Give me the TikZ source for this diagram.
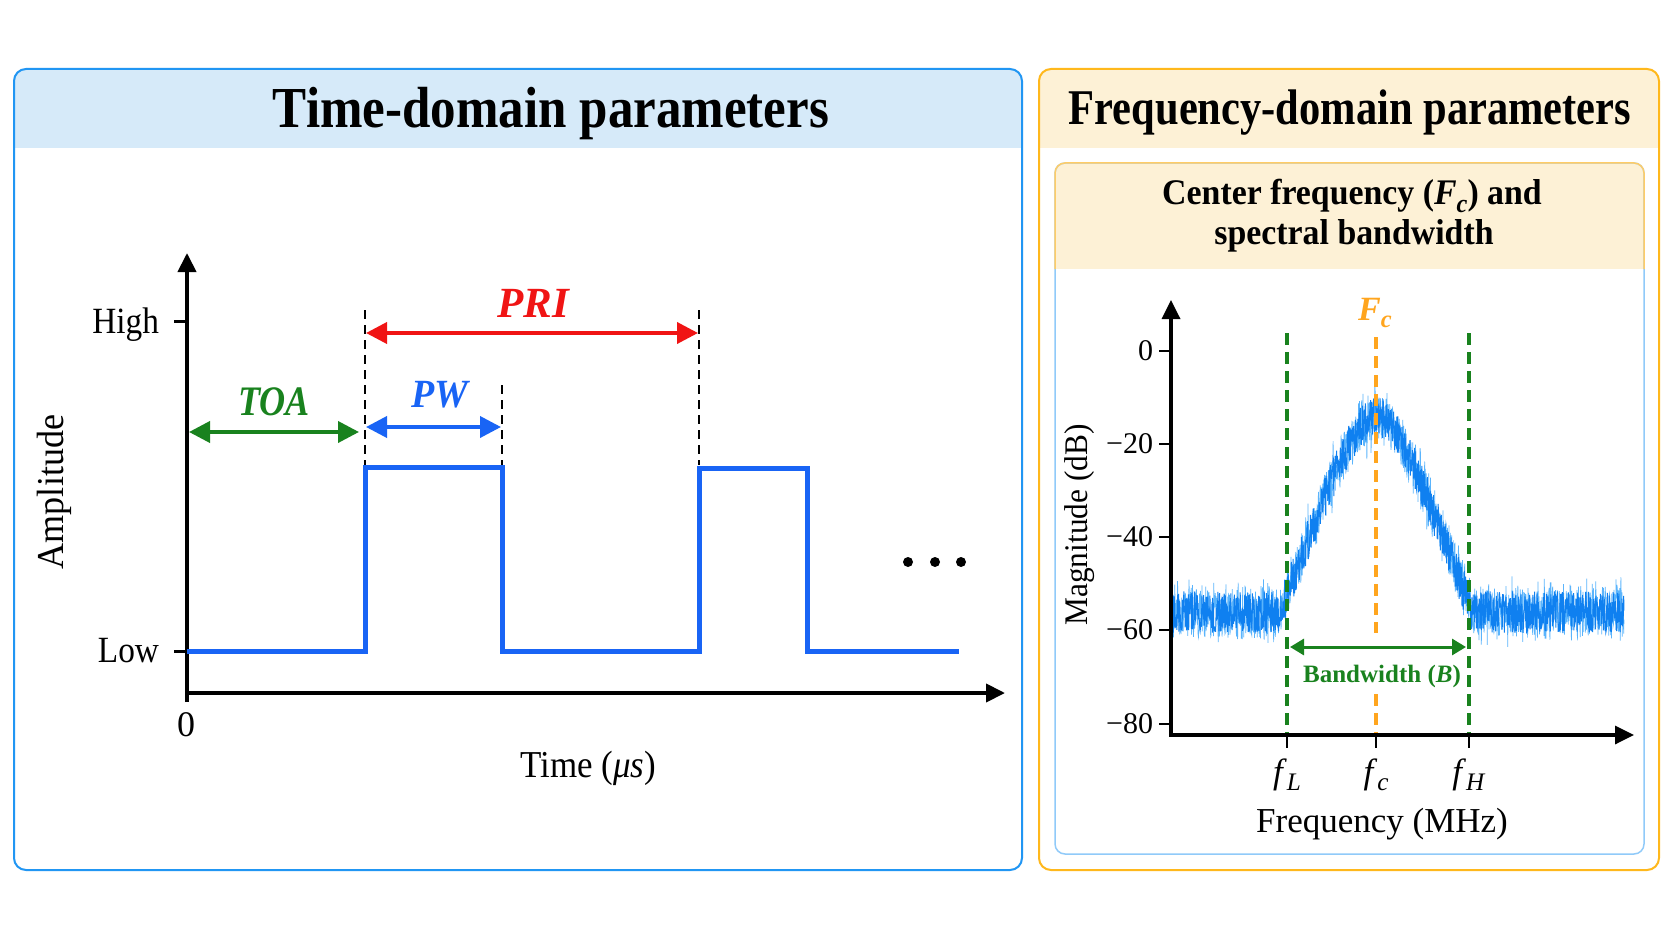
\documentclass[tikz,border=0pt]{standalone}
\usepackage{fontspec}
\setmainfont{Liberation Serif}
\usepackage{graphicx}
\usetikzlibrary{arrows.meta}
\definecolor{pblue}{RGB}{33,150,243}
\definecolor{hblue}{RGB}{214,234,249}
\definecolor{porange}{RGB}{255,184,28}
\definecolor{hcream}{RGB}{253,241,214}
\definecolor{iblue}{RGB}{144,202,249}
\definecolor{iorange}{RGB}{255,204,102}
\definecolor{sigblue}{RGB}{25,100,245}
\definecolor{pred}{RGB}{240,20,20}
\definecolor{pgreen}{RGB}{25,130,30}
\definecolor{forange}{RGB}{255,165,30}
\definecolor{specblue}{RGB}{15,128,240}
\definecolor{speclight}{RGB}{90,180,252}
\newcommand{\mysub}[1]{\raisebox{-0.22em}{\scalebox{0.72}{#1}}}
\newcommand{\fsz}[1]{\fontsize{#1}{#1}\selectfont}
\begin{document}
\begin{tikzpicture}[x=1pt,y=-1pt,
  panelline/.style={line width=2pt, rounded corners=12pt},
  axisline/.style={line width=4pt},
  axarrow/.style={-{Triangle[length=19pt,width=18pt]}},
  tickline/.style={line width=3pt},
  sigline/.style={sigblue, line width=5pt, line join=miter},
  guide/.style={black, line width=2.5pt, dash pattern=on 9pt off 6pt},
  dimarrow/.style={line width=3.8pt, {Triangle[length=21pt,width=21pt]}-{Triangle[length=21pt,width=21pt]}},
  bwarrow/.style={line width=3pt, {Triangle[length=14pt,width=16pt]}-{Triangle[length=14pt,width=16pt]}},
  gdash/.style={pgreen, line width=3.2pt, dash pattern=on 12pt off 7pt},
  odash/.style={forange, line width=3.2pt, dash pattern=on 12pt off 7pt},
  lab/.style={inner sep=0pt, outer sep=0pt},
  every node/.style={inner sep=0pt}
]
\useasboundingbox (0,0) rectangle (1672,941);
\fill[white] (0,0) rectangle (1672,941);

% ---------- left panel ----------
\begin{scope}
  \clip[rounded corners=12pt] (14,69) rectangle (1022,870);
  \fill[hblue] (14,69) rectangle (1022,148);
\end{scope}
\draw[panelline, pblue] (14,69) rectangle (1022,870);
\node[lab, anchor=base] (ltitle) at (551,128) {\fsz{58}\bfseries\scalebox{0.88}[1]{Time-domain parameters}};

% ---------- right panel ----------
\begin{scope}
  \clip[rounded corners=12pt] (1039,69) rectangle (1659,870);
  \fill[hcream] (1039,69) rectangle (1659,148);
\end{scope}
\draw[panelline, porange] (1039,69) rectangle (1659,870);
\node[lab, anchor=base] (rtitle) at (1350,125) {\fsz{50}\bfseries\scalebox{0.85}[1]{Frequency-domain parameters}};

\begin{scope}
  \clip[rounded corners=10pt] (1055,163) rectangle (1644,854);
  \fill[hcream] (1055,163) rectangle (1644,269);
\end{scope}
\draw[line width=1.5pt, iblue, rounded corners=10pt] (1055,163) rectangle (1644,854);
\draw[line width=1.5pt, iorange, rounded corners=10pt] (1055,269) -- (1055,163) -- (1644,163) -- (1644,269);
\node[lab, anchor=base] (ititle1) at (1352,205) {\fsz{36}\bfseries\scalebox{0.94}[1]{Center frequency (\textit{F}\mysub{\textit{c}}) and}};
\node[lab, anchor=base] (ititle2) at (1354,245) {\fsz{36}\bfseries\scalebox{0.94}[1]{spectral bandwidth}};

% ---------- time-domain plot ----------
\coordinate (O) at (187,693);
\coordinate (ytop) at (187,253);
\coordinate (xend) at (1005,693);
\coordinate (ybot) at (187,702);
\draw[axisline] (ybot) -- (O);
\draw[axisline, axarrow] (O) -- (ytop);
\draw[axisline, axarrow] (185,693) -- (xend);
\coordinate (hi) at (187,321);
\coordinate (lo) at (187,651);
\draw[tickline] (174,321) -- (hi);
\draw[tickline] (174,651) -- (lo);
\node[lab, anchor=base east] (high) at (159,333) {\fsz{37}\scalebox{0.9}[1]{High}};
\node[lab, anchor=base east] (low) at (159,662) {\fsz{37}\scalebox{0.9}[1]{Low}};
\node[lab, anchor=base] (zero) at (186,736) {\fsz{36}0};
\node[lab, rotate=90] (amp) at (54,492) {\fsz{38}\scalebox{0.95}[1]{Amplitude}};
\node[lab, anchor=base] (time) at (588,777) {\fsz{38}\scalebox{0.92}[1]{Time (\textit{μs})}};

\draw[sigline] (187,651) -- (365,651) -- (365,467) -- (502,467) -- (502,651) -- (699,651) -- (699,468) -- (807,468) -- (807,651) -- (959,651);

\draw[guide] (365,310) -- (365,465);
\draw[guide] (502,385) -- (502,465);
\draw[guide] (699,310) -- (699,465);

\coordinate (toaL) at (189,432);
\coordinate (toaR) at (359,432);
\coordinate (pwL) at (366,427);
\coordinate (pwR) at (501,427);
\coordinate (priL) at (366,333);
\coordinate (priR) at (698,333);
\draw[dimarrow, pgreen] (toaL) -- (toaR);
\draw[dimarrow, sigblue] (pwL) -- (pwR);
\draw[dimarrow, pred] (priL) -- (priR);
\node[lab, text=pgreen] (toa) at (274,402) {\fsz{42}\bfseries\itshape\scalebox{0.86}[1]{TOA}};
\node[lab, text=sigblue] (pw) at (440,395) {\fsz{40}\bfseries\itshape\scalebox{0.95}[1]{PW}};
\node[lab, text=pred] (pri) at (533,303) {\fsz{43}\bfseries\itshape PRI};

\fill (908,562) circle (5pt);
\fill (935,562) circle (5pt);
\fill (961,562) circle (5pt);

% ---------- frequency-domain plot ----------
\pgfmathsetseed{11}
\draw[speclight, line width=0.7pt] plot[domain=1172:1624, samples=1300, variable=\x]
  (\x, {351 - 4.6625*( max(-56, -14 - 59.5*(sqrt(((\x-1376)/100)^2+0.09)-0.3)) + 5.5*rand + 6*rand*rand*rand )});
\draw[specblue, line width=1pt] plot[domain=1172:1624, samples=1300, variable=\x]
  (\x, {351 - 4.6625*( max(-56, -14 - 59.5*(sqrt(((\x-1376)/100)^2+0.09)-0.3)) + 4.5*rand )});

\coordinate (fL) at (1287,735);
\coordinate (fc) at (1376,735);
\coordinate (fH) at (1469,735);
\draw[gdash] (1287,333) -- (fL);
\draw[gdash] (1469,333) -- (fH);
\draw[odash] (1376,337) -- (1376,633);
\draw[odash] (1376,694) -- (fc);
\coordinate (bwL) at (1290,647);
\coordinate (bwR) at (1466,647);
\draw[bwarrow, pgreen] (bwL) -- (bwR);
\node[lab, text=pgreen] (bw) at (1382,676) {\fsz{25}\bfseries Bandwidth (\textit{B})};
\node[lab, text=forange] (fclab) at (1375,313) {\fsz{34}\bfseries\itshape F\mysub{c}};

\coordinate (O2) at (1171,735);
\draw[axisline, line width=3.4pt, axarrow] (O2) -- (1171,300);
\draw[axisline, line width=3.4pt, axarrow] (1169.3,735) -- (1634,735);
\foreach \yy/\lb in {351/0,444/−20,537/−40,630/−60,724/−80}{
  \draw[line width=2.5pt] (1159,\yy) -- (1171,\yy);
  \node[lab, anchor=east] at (1153,\yy) {\fsz{30}\lb};
}
\draw[line width=2.5pt] (fL) -- (1287,748);
\draw[line width=2.5pt] (fc) -- (1376,748);
\draw[line width=2.5pt] (fH) -- (1469,748);
\node[lab, anchor=base] (fLl) at (1287,783) {\fsz{35}\textit{f}\mysub{\textit{L}}};
\node[lab, anchor=base] (fcl) at (1376,783) {\fsz{35}\textit{f}\mysub{\textit{c}}};
\node[lab, anchor=base] (fHl) at (1469,783) {\fsz{35}\textit{f}\mysub{\textit{H}}};
\node[lab, anchor=base] (freq) at (1382,832) {\fsz{35}Frequency (MHz)};
\node[lab, rotate=90] (mag) at (1080,525) {\fsz{33}\scalebox{0.95}[1]{Magnitude (dB)}};
\end{tikzpicture}
\end{document}
